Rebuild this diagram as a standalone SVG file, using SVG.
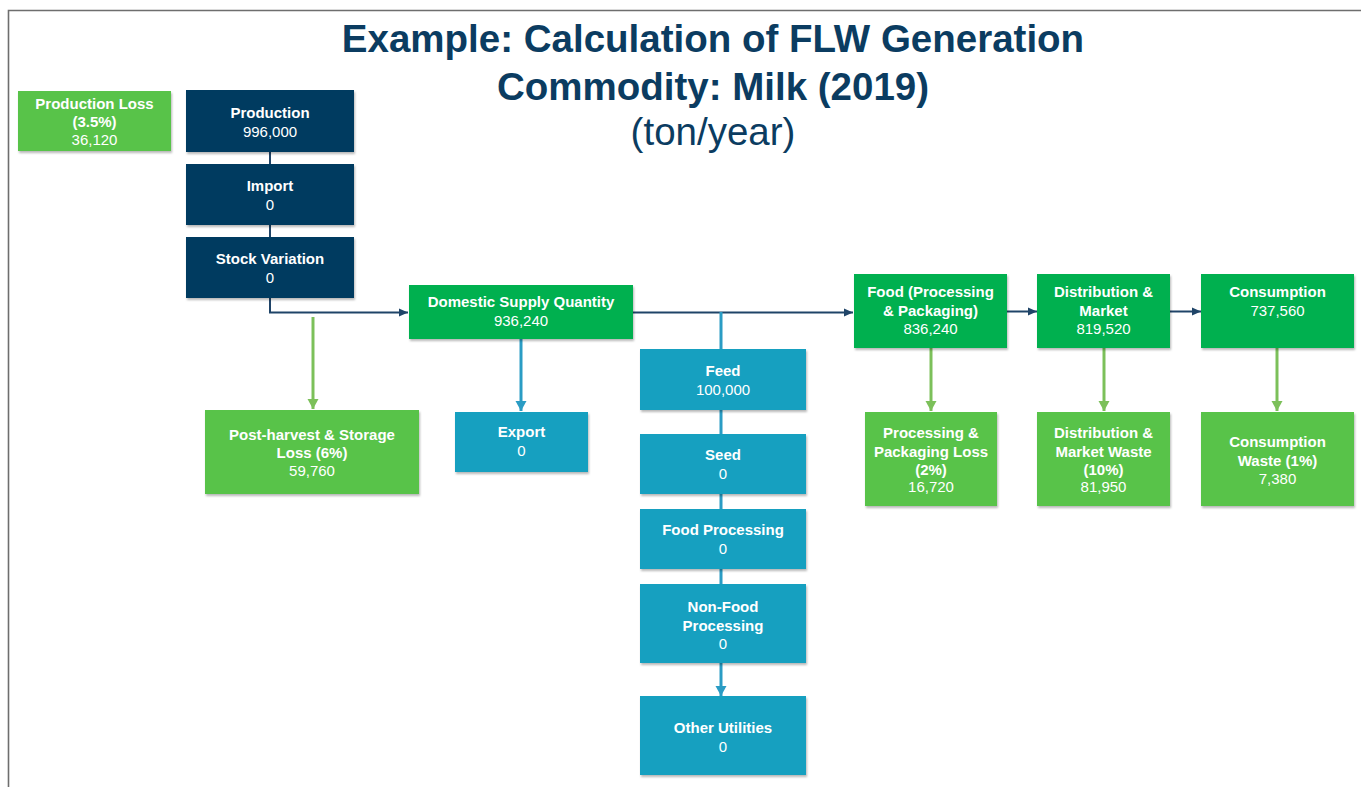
<svg xmlns="http://www.w3.org/2000/svg" width="1361" height="787" viewBox="0 0 1361 787">
  <style>
    .title { font-family: "Liberation Sans", Arial, sans-serif; fill: #0B3C61; text-anchor: middle; font-size: 38.5px; }
    .title.b { font-weight: bold; }
    .box { filter: url(#shadow); }
    .navy { fill: #063B61; }
    .dgreen { fill: #00B050; }
    .lgreen { fill: #59C348; }
    .teal { fill: #19A0C0; }
    .t { font-family: "Liberation Sans", Arial, sans-serif; font-size: 15px; fill: #FFFFFF; text-anchor: middle; }
    .t .b { font-weight: bold; }
    .c-navy { stroke: #1F4468; stroke-width: 2; fill: none; }
    .c-teal { stroke: #2A9CC4; stroke-width: 3; fill: none; }
    .c-green { stroke: #7CC05A; stroke-width: 3; fill: none; }
    .frame { stroke: #6E6E6E; stroke-width: 1.6; fill: none; }
  </style>
  <defs>
    <filter id="shadow" x="-10%" y="-10%" width="125%" height="130%">
      <feDropShadow dx="1" dy="2" stdDeviation="1.2" flood-color="#000000" flood-opacity="0.28"/>
    </filter>
    <marker id="ah-navy" markerUnits="userSpaceOnUse" markerWidth="10" markerHeight="10" refX="9" refY="5" orient="auto">
      <path d="M0,1 L9,5 L0,9 Z" fill="#1F4468"/>
    </marker>
    <marker id="ah-teal" markerUnits="userSpaceOnUse" markerWidth="12" markerHeight="12" refX="10" refY="6" orient="auto">
      <path d="M0,0.5 L10,6 L0,11.5 Z" fill="#2A9CC4"/>
    </marker>
    <marker id="ah-green" markerUnits="userSpaceOnUse" markerWidth="12" markerHeight="12" refX="10" refY="6" orient="auto">
      <path d="M0,0.5 L10,6 L0,11.5 Z" fill="#7CC05A"/>
    </marker>
  </defs>

  <rect width="1361" height="787" fill="#FFFFFF"/>
  <path class="frame" d="M8.5,787 V10.5 H1361"/>

  <!-- heading -->
  <text class="title b" x="713" y="52">Example: Calculation of FLW Generation</text>
  <text class="title b" x="713" y="100">Commodity: Milk (2019)</text>
  <text class="title" x="713" y="145">(ton/year)</text>

  <!-- connectors -->
  <g id="connectors">
    <path class="c-navy" d="M270,152 V164 M270,224 V237"/>
    <path class="c-navy" d="M270,297 V312.5 H408" marker-end="url(#ah-navy)"/>
    <path class="c-green" d="M313,317 V409" marker-end="url(#ah-green)"/>
    <path class="c-teal" d="M521,339 V411" marker-end="url(#ah-teal)"/>
    <path class="c-navy" d="M633,312.5 H853" marker-end="url(#ah-navy)"/>
    <path class="c-teal" d="M721,312 V349 M721,409 V434 M721,494 V509 M721,569 V584"/>
    <path class="c-teal" d="M721,663 V696" marker-end="url(#ah-teal)"/>
    <path class="c-navy" d="M1007,311.5 H1037" marker-end="url(#ah-navy)"/>
    <path class="c-navy" d="M1170,311.5 H1201" marker-end="url(#ah-navy)"/>
    <path class="c-green" d="M931,348 V411" marker-end="url(#ah-green)"/>
    <path class="c-green" d="M1104,348 V411" marker-end="url(#ah-green)"/>
    <path class="c-green" d="M1277,348 V411" marker-end="url(#ah-green)"/>
  </g>

  <!-- supply side -->
  <g id="production-loss">
    <rect class="box lgreen" x="18" y="91" width="153" height="60"/>
    <text class="t"><tspan class="b" x="94.5" y="108.5">Production Loss</tspan><tspan class="b" x="94.5" y="127">(3.5%)</tspan><tspan x="94.5" y="145">36,120</tspan></text>
  </g>
  <g id="production">
    <rect class="box navy" x="186" y="90" width="168" height="62"/>
    <text class="t"><tspan class="b" x="270" y="117.5">Production</tspan><tspan x="270" y="136.5">996,000</tspan></text>
  </g>
  <g id="import">
    <rect class="box navy" x="186" y="164" width="168" height="61"/>
    <text class="t"><tspan class="b" x="270" y="190.5">Import</tspan><tspan x="270" y="209.5">0</tspan></text>
  </g>
  <g id="stock-variation">
    <rect class="box navy" x="186" y="237" width="168" height="61"/>
    <text class="t"><tspan class="b" x="270" y="263.5">Stock Variation</tspan><tspan x="270" y="282.5">0</tspan></text>
  </g>
  <g id="post-harvest-loss">
    <rect class="box lgreen" x="205" y="410" width="214" height="84"/>
    <text class="t"><tspan class="b" x="312" y="439.5">Post-harvest &amp; Storage</tspan><tspan class="b" x="312" y="458">Loss (6%)</tspan><tspan x="312" y="476">59,760</tspan></text>
  </g>
  <g id="domestic-supply">
    <rect class="box dgreen" x="409" y="285" width="224" height="54"/>
    <text class="t"><tspan class="b" x="521" y="307">Domestic Supply Quantity</tspan><tspan x="521" y="326">936,240</tspan></text>
  </g>
  <g id="export">
    <rect class="box teal" x="455" y="412" width="133" height="60"/>
    <text class="t"><tspan class="b" x="521.5" y="437">Export</tspan><tspan x="521.5" y="456">0</tspan></text>
  </g>

  <!-- non-food uses -->
  <g id="feed">
    <rect class="box teal" x="640" y="349" width="166" height="61"/>
    <text class="t"><tspan class="b" x="723" y="376">Feed</tspan><tspan x="723" y="395">100,000</tspan></text>
  </g>
  <g id="seed">
    <rect class="box teal" x="640" y="434" width="166" height="60"/>
    <text class="t"><tspan class="b" x="723" y="459.5">Seed</tspan><tspan x="723" y="478.5">0</tspan></text>
  </g>
  <g id="food-processing">
    <rect class="box teal" x="640" y="509" width="166" height="60"/>
    <text class="t"><tspan class="b" x="723" y="534.5">Food Processing</tspan><tspan x="723" y="553.5">0</tspan></text>
  </g>
  <g id="non-food-processing">
    <rect class="box teal" x="640" y="584" width="166" height="79"/>
    <text class="t"><tspan class="b" x="723" y="611.5">Non-Food</tspan><tspan class="b" x="723" y="630.5">Processing</tspan><tspan x="723" y="649">0</tspan></text>
  </g>
  <g id="other-utilities">
    <rect class="box teal" x="640" y="696" width="166" height="79"/>
    <text class="t"><tspan class="b" x="723" y="732.5">Other Utilities</tspan><tspan x="723" y="751.5">0</tspan></text>
  </g>

  <!-- food chain -->
  <g id="food-processing-packaging">
    <rect class="box dgreen" x="854" y="274" width="153" height="74"/>
    <text class="t"><tspan class="b" x="930.5" y="297">Food (Processing</tspan><tspan class="b" x="930.5" y="316">&amp; Packaging)</tspan><tspan x="930.5" y="334">836,240</tspan></text>
  </g>
  <g id="distribution-market">
    <rect class="box dgreen" x="1037" y="274" width="133" height="74"/>
    <text class="t"><tspan class="b" x="1103.5" y="297">Distribution &amp;</tspan><tspan class="b" x="1103.5" y="316">Market</tspan><tspan x="1103.5" y="334">819,520</tspan></text>
  </g>
  <g id="consumption">
    <rect class="box dgreen" x="1201" y="274" width="153" height="74"/>
    <text class="t"><tspan class="b" x="1277.5" y="297">Consumption</tspan><tspan x="1277.5" y="316">737,560</tspan></text>
  </g>
  <g id="processing-packaging-loss">
    <rect class="box lgreen" x="865" y="412" width="132" height="94"/>
    <text class="t"><tspan class="b" x="931" y="438">Processing &amp;</tspan><tspan class="b" x="931" y="456.5">Packaging Loss</tspan><tspan class="b" x="931" y="475">(2%)</tspan><tspan x="931" y="492">16,720</tspan></text>
  </g>
  <g id="distribution-market-waste">
    <rect class="box lgreen" x="1037" y="412" width="133" height="94"/>
    <text class="t"><tspan class="b" x="1103.5" y="438">Distribution &amp;</tspan><tspan class="b" x="1103.5" y="456.5">Market Waste</tspan><tspan class="b" x="1103.5" y="475">(10%)</tspan><tspan x="1103.5" y="492">81,950</tspan></text>
  </g>
  <g id="consumption-waste">
    <rect class="box lgreen" x="1201" y="412" width="153" height="94"/>
    <text class="t"><tspan class="b" x="1277.5" y="447">Consumption</tspan><tspan class="b" x="1277.5" y="465.5">Waste (1%)</tspan><tspan x="1277.5" y="484">7,380</tspan></text>
  </g>
</svg>
